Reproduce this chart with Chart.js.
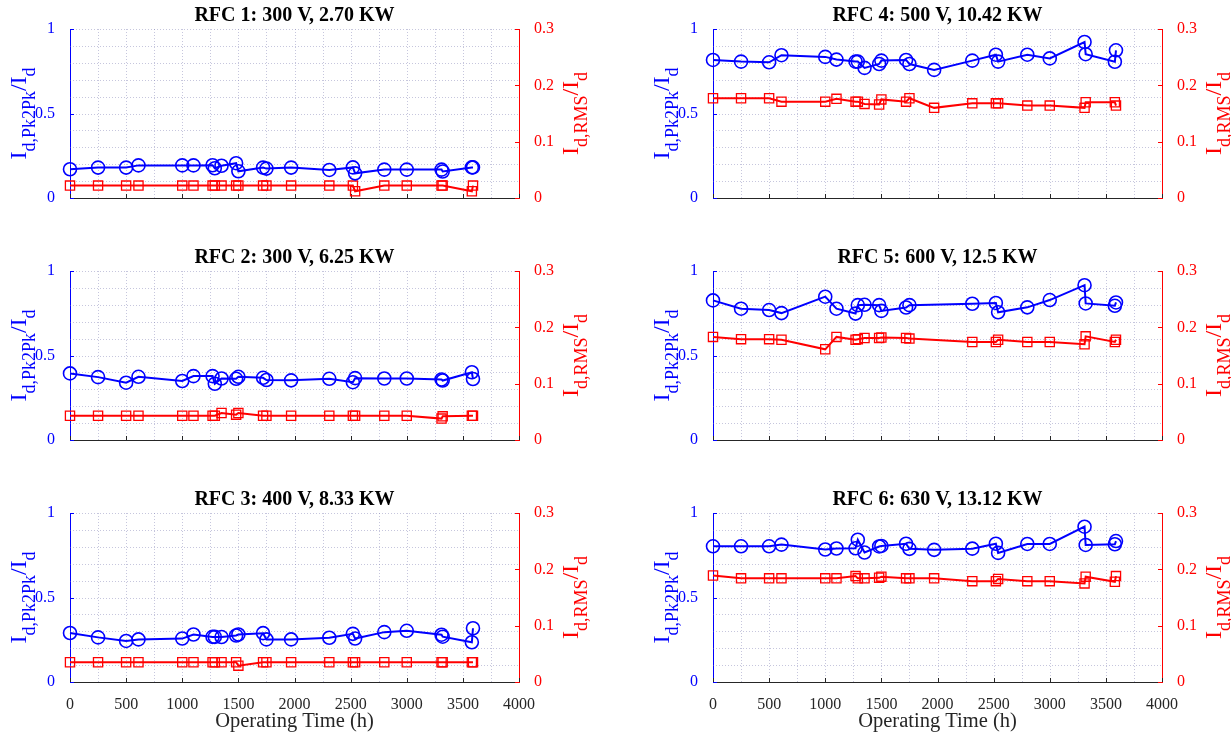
<!DOCTYPE html>
<html><head><meta charset="utf-8">
<script src="https://cdn.jsdelivr.net/npm/chart.js@4.4.1/dist/chart.umd.min.js"></script>
<style>
html,body{margin:0;padding:0;background:#fff;width:1231px;height:738px;overflow:hidden;position:relative;}
canvas{position:absolute;}
</style></head><body>
<script>
// ---------- data ----------
const hours = [0,250,500,610,1000,1100,1270,1290,1350,1480,1500,1720,1750,1970,2310,2520,2540,2800,3000,3310,3320,3580,3590];
const titles = ['RFC 1: 300 V, 2.70 KW','RFC 2: 300 V, 6.25 KW','RFC 3: 400 V, 8.33 KW',
                'RFC 4: 500 V, 10.42 KW','RFC 5: 600 V, 12.5 KW','RFC 6: 630 V, 13.12 KW'];
const rfc1Pk2Pk = [0.170,0.180,0.180,0.193,0.193,0.193,0.194,0.176,0.191,0.206,0.158,0.180,0.174,0.180,0.166,0.181,0.146,0.168,0.168,0.168,0.157,0.181,0.181];
const rfc1Rms   = [0.022,0.022,0.022,0.022,0.022,0.022,0.022,0.022,0.022,0.022,0.022,0.022,0.022,0.022,0.022,0.022,0.012,0.022,0.022,0.022,0.022,0.012,0.022];
const rfc2Pk2Pk = [0.394,0.372,0.339,0.374,0.349,0.378,0.378,0.333,0.364,0.362,0.374,0.368,0.355,0.353,0.362,0.342,0.366,0.364,0.364,0.358,0.352,0.401,0.361];
const rfc2Rms   = [0.043,0.043,0.043,0.043,0.043,0.043,0.043,0.043,0.048,0.045,0.048,0.043,0.043,0.043,0.043,0.043,0.043,0.043,0.043,0.038,0.042,0.043,0.043];
const rfc3Pk2Pk = [0.290,0.264,0.243,0.252,0.257,0.281,0.267,0.267,0.266,0.275,0.281,0.289,0.252,0.252,0.262,0.285,0.257,0.295,0.303,0.280,0.268,0.235,0.318];
const rfc3Rms   = [0.035,0.035,0.035,0.035,0.035,0.035,0.035,0.035,0.035,0.035,0.029,0.035,0.035,0.035,0.035,0.035,0.035,0.035,0.035,0.035,0.035,0.035,0.035];
const rfc4Pk2Pk = [0.817,0.807,0.803,0.845,0.835,0.819,0.807,0.807,0.770,0.793,0.813,0.817,0.793,0.758,0.813,0.848,0.807,0.848,0.826,0.923,0.851,0.806,0.874];
const rfc4Rms   = [0.177,0.177,0.177,0.171,0.171,0.176,0.171,0.171,0.167,0.166,0.175,0.171,0.177,0.160,0.168,0.168,0.168,0.164,0.164,0.160,0.170,0.170,0.164];
const rfc5Pk2Pk = [0.826,0.777,0.769,0.751,0.848,0.777,0.748,0.798,0.800,0.798,0.764,0.784,0.798,null,0.806,0.811,0.756,0.785,0.828,0.916,0.808,0.794,0.814];
const rfc5Rms   = [0.183,0.179,0.179,0.178,0.161,0.183,0.178,0.179,0.181,0.181,0.182,0.181,0.180,null,0.174,0.174,0.178,0.174,0.174,0.170,0.184,0.174,0.178];
const rfc6Pk2Pk = [0.803,0.803,0.803,0.813,0.784,0.790,0.791,0.842,0.766,0.802,0.805,0.818,0.788,0.782,0.789,0.818,0.764,0.817,0.817,0.919,0.811,0.815,0.834];
const rfc6Rms   = [0.189,0.184,0.184,0.184,0.184,0.184,0.188,0.184,0.184,0.185,0.187,0.184,0.184,0.184,0.179,0.179,0.183,0.179,0.179,0.175,0.187,0.178,0.188];
const xTicks = [0,500,1000,1500,2000,2500,3000,3500,4000];
const leftTicks = [0,0.5,1];
const rightTicks = [0,0.1,0.2,0.3];
const xLabel = 'Operating Time (h)';
const leftLabel = [['I',0],['d,Pk2Pk',1],['/I',0],['d',1]];
const rightLabel = [['I',0],['d,RMS',1],['/I',0],['d',1]];

// ---------- layout / style ----------
const SERIF = '"Liberation Serif","Times New Roman",serif';
const BLUE = '#0000ff', RED = '#ff0000', AX = '#262626', GRID = 'rgba(120,120,175,0.42)';
const cols = [{x:0,w:615,L:70,R:519},{x:615,w:616,L:713,R:1162}];
const rows = [{y:0,h:243,T:29,B:198},{y:243,h:243,T:271,B:440},{y:486,h:252,T:513,B:682}];
const panels = [
  {t:titles[0],pk:rfc1Pk2Pk,rms:rfc1Rms,r:0,c:0},
  {t:titles[1],pk:rfc2Pk2Pk,rms:rfc2Rms,r:1,c:0},
  {t:titles[2],pk:rfc3Pk2Pk,rms:rfc3Rms,r:2,c:0},
  {t:titles[3],pk:rfc4Pk2Pk,rms:rfc4Rms,r:0,c:1},
  {t:titles[4],pk:rfc5Pk2Pk,rms:rfc5Rms,r:1,c:1},
  {t:titles[5],pk:rfc6Pk2Pk,rms:rfc6Rms,r:2,c:1}
];
const fmt = v => String(Math.round(v*1000)/1000);

function richV(ctx, parts, bx, cy, color){
  const big = 24, small = 18, drop = 9;
  ctx.save(); ctx.fillStyle = color; ctx.textBaseline = 'alphabetic'; ctx.textAlign = 'left';
  let tot = 0;
  const ws = parts.map(p => { ctx.font = (p[1]?small:big)+'px '+SERIF; const w = ctx.measureText(p[0]).width; tot += w; return w; });
  ctx.translate(bx, cy); ctx.rotate(-Math.PI/2);
  let pos = -tot/2;
  parts.forEach((p,i) => { ctx.font = (p[1]?small:big)+'px '+SERIF; ctx.fillText(p[0], pos, p[1]?drop:0); pos += ws[i]; });
  ctx.restore();
}

const decor = {
  id:'decor',
  beforeDatasetsDraw(chart, args, o){
    const {ctx, chartArea:a} = chart; const x = chart.scales.x, yL = chart.scales.yL, yR = chart.scales.yR;
    ctx.save();
    ctx.strokeStyle = GRID; ctx.lineWidth = 1; ctx.setLineDash([1,2]);
    ctx.beginPath();
    for (let v = 250; v < 4000; v += 250){ const px = Math.round(x.getPixelForValue(v))+0.5; ctx.moveTo(px,a.top); ctx.lineTo(px,a.bottom); }
    for (let k = 1; k <= 10; k++){ const py = Math.round(yL.getPixelForValue(k/10))+0.5; ctx.moveTo(a.left,py); ctx.lineTo(a.right,py); }
    ctx.stroke();
    ctx.setLineDash([]);
    ctx.lineWidth = 1;
    ctx.strokeStyle = AX; ctx.beginPath();
    xTicks.forEach(v => { const px = Math.round(x.getPixelForValue(v))+0.5; ctx.moveTo(px,a.bottom); ctx.lineTo(px,a.bottom-4); });
    ctx.stroke();
    ctx.strokeStyle = BLUE; ctx.beginPath();
    leftTicks.forEach(v => { const py = Math.round(yL.getPixelForValue(v))+0.5; ctx.moveTo(a.left,py); ctx.lineTo(a.left+4,py); });
    ctx.stroke();
    ctx.strokeStyle = RED; ctx.beginPath();
    rightTicks.forEach(v => { const py = Math.round(yR.getPixelForValue(v))+0.5; ctx.moveTo(a.right,py); ctx.lineTo(a.right-4,py); });
    ctx.stroke();
    ctx.restore();
  },
  afterDraw(chart, args, o){
    const {ctx, chartArea:a} = chart;
    ctx.save();
    ctx.fillStyle = '#000'; ctx.textAlign = 'center'; ctx.textBaseline = 'alphabetic';
    ctx.font = 'bold 20px '+SERIF;
    ctx.fillText(o.title, (a.left+a.right)/2, a.top - 8);
    if (o.bottom){
      ctx.fillStyle = AX; ctx.font = '20.5px '+SERIF;
      ctx.fillText(xLabel, (a.left+a.right)/2, a.bottom + 45);
    }
    ctx.restore();
    const cy = (a.top + a.bottom)/2;
    richV(ctx, leftLabel, a.left - 44, cy, BLUE);
    richV(ctx, rightLabel, a.right + 59, cy, RED);
  }
};

panels.forEach(p => {
  const c = cols[p.c], r = rows[p.r], bottom = p.r === 2;
  const cv = document.createElement('canvas');
  cv.width = c.w; cv.height = r.h;
  cv.style.left = c.x + 'px'; cv.style.top = r.y + 'px';
  cv.style.width = c.w + 'px'; cv.style.height = r.h + 'px';
  document.body.appendChild(cv);
  new Chart(cv, {
    type:'line',
    data:{datasets:[
      {data: hours.map((h,i)=>({x:h,y:p.pk[i]})), yAxisID:'yL', borderColor:BLUE, borderWidth:2,
       pointStyle:'circle', pointRadius:6.5, pointBorderWidth:1.6, pointBackgroundColor:'rgba(0,0,0,0)',
       pointBorderColor:BLUE, spanGaps:true, tension:0, clip:false, fill:false},
      {data: hours.map((h,i)=>({x:h,y:p.rms[i]})), yAxisID:'yR', borderColor:RED, borderWidth:2,
       pointStyle:'rect', pointRadius:6.5, pointBorderWidth:1.3, pointBackgroundColor:'rgba(0,0,0,0)',
       pointBorderColor:RED, spanGaps:true, tension:0, clip:false, fill:false}
    ]},
    options:{
      responsive:false, animation:false, events:[], devicePixelRatio:1,
      layout:{padding:{top:r.T - r.y, left:0, right:0, bottom:0}},
      plugins:{legend:{display:false}, tooltip:{enabled:false}, title:{display:false},
               decor:{title:p.t, bottom:bottom}},
      scales:{
        x:{type:'linear', position:'bottom', min:0, max:4000,
           grid:{display:false}, border:{display:true, color:AX, width:1},
           ticks:{display:bottom, autoSkip:false, maxRotation:0, color:AX, callback:fmt,
                  font:{family:SERIF, size:16}, padding:5},
           afterBuildTicks:s=>{ s.ticks = xTicks.map(v=>({value:v})); },
           afterFit:s=>{ s.height = r.y + r.h - r.B; }},
        yL:{type:'linear', position:'left', min:0, max:1,
            grid:{display:false}, border:{display:true, color:BLUE, width:1},
            ticks:{color:BLUE, font:{family:SERIF, size:16}, padding:7, callback:fmt},
            afterBuildTicks:s=>{ s.ticks = leftTicks.map(v=>({value:v})); },
            afterFit:s=>{ s.width = c.L - c.x; }},
        yR:{type:'linear', position:'right', min:0, max:0.3,
            grid:{display:false}, border:{display:true, color:RED, width:1},
            ticks:{color:RED, font:{family:SERIF, size:16}, padding:7, callback:fmt},
            afterBuildTicks:s=>{ s.ticks = rightTicks.map(v=>({value:v})); },
            afterFit:s=>{ s.width = c.x + c.w - c.R; }}
      }
    },
    plugins:[decor]
  });
});
</script>
</body></html>
